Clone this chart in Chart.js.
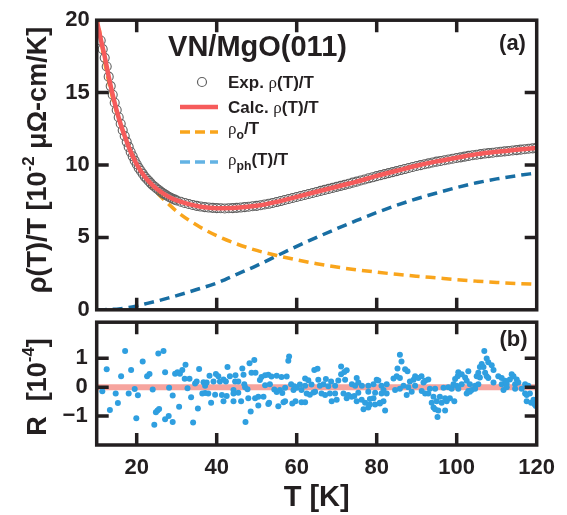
<!DOCTYPE html>
<html><head><meta charset="utf-8">
<script src="https://cdn.jsdelivr.net/npm/chart.js@4"></script>
<style>
html,body{margin:0;padding:0;background:#fff;width:567px;height:515px;overflow:hidden}
canvas{position:absolute;left:0}
#c1{top:0}
#c2{top:300px}
</style></head>
<body>
<canvas id="c1" width="567" height="330"></canvas>
<canvas id="c2" width="567" height="215"></canvas>
<script>
// ---------- data ----------
const calcT   = [10,11,12,13,14,15,16,17,18,19,20,22,24,26,28,30,33,36,40,45,50,55,60,65,70,75,80,85,90,95,100,105,110,115,120];
const calcRho = [20.0,18.7,17.5,16.1,14.85,13.75,12.8,12.0,11.25,10.6,10.05,9.2,8.6,8.15,7.8,7.55,7.3,7.12,7.02,7.05,7.18,7.45,7.8,8.15,8.5,8.85,9.25,9.6,9.95,10.25,10.5,10.75,10.92,11.05,11.18];

const expT   = [11,11.5,12,12.5,13,13.5,14,14.5,15,15.5,16,16.5,17,17.5,18,18.5,19,19.5,20,20.5,21,21.5,22,22.5,23,23.5,24,24.5,25,25.5,26,26.5,27,27.5,28,28.5,29,29.5,30,
  31,32,33,34,35,36,37,38,39,40,41,42,43,44,45,46,47,48,49,50,51,52,53,54,55,56,57,58,59,60,61,62,63,64,65,66,67,68,69,70,
  71,72,73,74,75,76,77,78,79,80,81,82,83,84,85,86,87,88,89,90,91,92,93,94,95,96,97,98,99,100,101,102,103,104,105,106,107,108,109,110,
  111,112,113,114,115,116,117,118,119,120];
const expRho = [18.6,18.0,17.4,16.8,16.1,15.45,14.85,14.3,13.8,13.3,12.85,12.4,12.0,11.6,11.25,10.9,10.6,10.3,10.05,9.8,9.6,9.4,9.2,9.05,8.9,8.75,8.6,8.5,8.38,8.27,8.16,8.06,7.97,7.89,7.81,7.74,7.67,7.61,7.55,
  7.46,7.38,7.31,7.24,7.18,7.13,7.09,7.06,7.04,7.02,7.01,7.0,7.01,7.02,7.04,7.06,7.09,7.12,7.15,7.18,7.22,7.27,7.32,7.38,7.44,7.51,7.58,7.65,7.72,7.79,7.86,7.93,8.0,8.07,8.14,8.21,8.28,8.35,8.42,8.49,
  8.56,8.63,8.7,8.78,8.85,8.93,9.0,9.08,9.15,9.23,9.3,9.37,9.44,9.51,9.58,9.65,9.72,9.79,9.86,9.93,9.99,10.05,10.11,10.17,10.23,10.28,10.33,10.38,10.43,10.48,10.53,10.58,10.63,10.67,10.71,10.75,10.79,10.82,10.85,10.88,
  10.91,10.94,10.97,11.0,11.03,11.06,11.09,11.12,11.15,11.18];

const rho0T = [10,12,14,16,18,20,22,25,28,30,35,40,45,50,55,60,65,70,75,80,85,90,95,100,105,110,115,120];
const rho0  = [20.5,17.1,14.6,12.8,11.3,10.1,9.2,8.1,7.3,6.8,5.85,5.12,4.55,4.1,3.75,3.45,3.18,2.95,2.76,2.6,2.45,2.32,2.2,2.08,1.98,1.89,1.82,1.76];

const phT   = [10,12,14,16,18,20,22,25,28,30,35,40,45,50,55,60,65,70,75,80,85,90,95,100,105,110,115,120];
const phRho = [0,0.01,0.03,0.08,0.16,0.27,0.4,0.6,0.82,0.98,1.4,1.85,2.45,3.05,3.72,4.38,5.0,5.6,6.17,6.72,7.22,7.67,8.07,8.44,8.77,9.04,9.26,9.45];

// residuals [T, R]
const residuals = [
 [11.4,-0.14],[12.5,0.62],[13.3,-0.79],[14.75,-0.22],[15.3,-0.55],[16.1,0.38],[17.1,1.25],[18,-0.22],[18.6,0.6],[19.5,-0.06],
 [19.9,-1.07],[20.3,-0.28],[21.5,0.89],[22.6,0.38],[23.2,0.46],[24,-0.08],[24.4,-1.3],[24.8,-0.87],[25.2,-0.81],[25.4,1.17],
 [25.6,-0.75],[26.7,1.25],[27.1,0.52],[27.1,-1.11],[28,-1.0],[28.1,-0.02],[29,-0.29],[29,-1.2],[29.6,0.47],[30.2,0.52],
 [30.6,-0.68],[30.8,0.47],[31.4,0.6],[32,0.29],[32.2,0.78],[32.7,-0.04],[33.2,0.29],[33.6,-0.35],[34.1,-1.22],[34.6,0.13],
 [35,0.2],[35.3,-0.74],[35.6,0.63],[36.4,-0.22],[36.7,0.17],[37.1,0.05],[37.1,-0.2],
 [37.5,0.16],[37.9,-0.22],[38.2,0.4],[38.6,-0.54],[39.2,0.2],[39.6,-0.26],[39.8,0.46],[40.4,0.38],[40.8,0.2],[41.3,-0.27],
 [41.7,0.27],[41.7,-0.49],[42.3,0.2],[42.5,-0.3],[42.7,0.7],[43.3,0.38],[44.2,-0.1],[44.2,-0.22],[44.2,-0.49],[44.6,0.2],
 [44.7,0.41],[45.4,0.2],[45.4,-0.19],[46.1,-0.49],[46.4,0.65],[46.7,0.43],[46.9,0.1],[47.1,0.0],[47.2,-1.2],[47.7,-0.07],
 [47.9,-0.38],[48.2,0.83],[48.5,-0.84],[48.7,0.5],[49.4,0.94],[49.6,-0.38],[49.7,0.5],[50.4,-0.33],[50.4,-0.63],[50.8,0.25],
 [51.2,0.35],[51.7,-0.33],[52.1,0.41],[52.1,0.07],[52.9,0.43],[52.9,-0.58],[53.1,-0.54],[53.3,0.1],[53.7,0.37],[54.4,-0.08],
 [55,-0.17],[55,0.4],[55.4,-0.66],[55.8,-0.1],[56.2,0.35],[56.4,-0.2],[56.7,-0.52],[57.1,-0.02],[57.1,-0.49],[57.5,0.37],
 [57.9,0.92],[58.1,1.06],[58.6,0.1],[58.9,-0.56],[59.2,-0.1],[59.4,0.03],[59.7,-0.49],[60,-0.02],[60.8,0.09],[61.2,-0.1],
 [61.2,-0.52],[62.1,0.3],[62.1,0.05],[62.1,-0.52],[62.5,-0.22],[62.9,0.24],[63.3,-0.26],[63.7,0.09],[64.2,-0.18],[64.4,0.6],
 [64.6,-0.16],[65.2,0.64],[65.4,0.26],[65.8,0.05],[66.2,-0.22],[66.7,0.1],[67.1,-0.27],[67.3,0.28],[67.9,0.03],[68.3,-0.22],
 [68.6,0.2],[68.75,-0.49],[69.6,0.05],[69.6,-0.22],[70,-0.43],[70.4,0.23],[71.1,0.72],[71.1,0.45],[71.7,-0.22],[71.9,0.53],
 [72.1,0.26],[72.5,0.59],[72.5,-0.38],[72.9,-0.27],[73.75,-0.33],[73.8,0.1],[74.4,-0.3],[74.6,0.05],[75,0.32],[75,-0.49],
 [75.4,0.16],[75.4,-0.19],[76.25,-0.43],[76.3,0.05],[76.7,-0.76],[77.1,-0.54],[77.9,0.05],[77.9,-0.16],[77.9,-0.7],[78.3,-0.41],
 [78.3,-0.6],[79.2,0.1],[79.2,-0.38],[79.6,-0.19],[79.6,-0.6],[80,0.26],[80.4,0.23],[80.8,-0.54],[80.8,-0.56],[81.2,0.05],
 [81.2,-0.22],[81.7,-0.1],[81.7,-0.49],[82.1,-0.81],[82.5,0.1],[82.5,-0.22],[84.2,0.3],[84.6,-0.1],[85,0.38],[85.2,0.65],
 [85.8,1.12],[85.8,0.32],[85.8,-0.05],[86.2,0.89],[86.7,0.05],[87.1,0.62],[87.5,-0.27],[87.7,0.55],[87.9,0.0],[88.3,0.2],
 [88.75,-0.16],[89.2,0.26],[89.6,0.38],[89.6,0.05],[90.4,0.32],[91.2,0.38],[91.25,-0.13],[91.7,0.16],[92.1,-0.22],
 [92.1,0.22],[92.9,0.27],[92.9,-0.22],[93.3,-0.05],[93.75,-0.54],[94.2,-0.33],[94.2,-0.7],[94.6,-0.05],[94.6,-0.76],[95,-0.49],
 [95.2,-1.03],[95.4,-0.81],[95.8,-0.33],[96.25,-0.54],[96.7,-0.02],[97.1,-0.38],[97.1,-0.81],[97.5,-0.49],[97.9,0.0],[98.3,-0.38],
 [98.75,-0.05],[99.2,0.1],[99.4,-0.49],[99.6,0.28],[100,0.05],[100.25,0.38],[100.4,0.52],[100.4,-0.05],[101.25,0.45],[101.25,0.1],
 [102.1,0.34],[102.5,0.22],[102.5,-0.22],[102.9,0.55],[102.9,-0.13],[103.3,0.1],[103.3,-0.16],[103.75,-0.1],[104.6,0.05],[104.6,-0.05],
 [105,0.38],[105.4,0.5],[105.4,0.1],[105.8,0.7],[105.8,0.34],[106.25,0.8],[106.7,0.7],[106.9,1.25],[107.1,0.5],[107.5,0.99],
 [107.5,0.38],[107.9,0.86],[107.9,0.32],[108.75,0.76],[109.2,0.6],[109.2,0.16],[110.4,0.38],[111.25,0.32],[111.25,0.1],[111.7,-0.1],
 [112.1,0.22],[112.5,0.12],[112.5,0.0],[113.3,0.27],[113.75,0.45],[114.2,0.38],[114.6,0.1],[114.6,-0.05],[115,0.27],[115.4,0.16],
 [116.25,-0.05],[117.1,0.1],[117.1,-0.22],[117.5,-0.27],[117.5,-0.49],[117.9,0.05],[118.3,-0.22],[118.6,-0.54],[119.2,-0.43],[119.5,-0.6],[119.8,-0.65]
];
const zeroT = [10,120];
const zeroR = [0,0];

const xTickLabels   = [20,40,60,80,100,120];
const xTickMarks    = [20,40,60,80,100];
const yTicksTop     = [0,5,10,15,20];
const yTickMarksTop = [5,10,15];
const yTicksBot     = [-1,0,1];

// ---------- styling ----------
const INK = '#231f20';
const SANS = '"Liberation Sans", Arial, Helvetica, sans-serif';
const SERIF = '"Liberation Serif", "Times New Roman", serif';
const LEFT = 96.7, RIGHT_PAD = 567 - 536.7;

function xy(xs, ys){ return xs.map((x,i)=>({x:x, y:ys[i]})); }

function partFont(p, size){
  const s = p.sup ? size*0.62 : (p.sub ? size*0.72 : size);
  if (p.serif) return `normal ${s}px ${SERIF}`;
  return `bold ${s}px ${SANS}`;
}
// draw a run of text parts (with super/subscripts)
function drawParts(ctx, parts, x, y, size, align, rot){
  ctx.save();
  ctx.translate(x, y);
  if (rot) ctx.rotate(rot);
  let total = 0;
  parts.forEach(p=>{ ctx.font = partFont(p,size); p._w = ctx.measureText(p.t).width; total += p._w; });
  let cx = align === 'center' ? -total/2 : 0;
  ctx.textBaseline = 'alphabetic';
  ctx.textAlign = 'left';
  ctx.fillStyle = INK;
  parts.forEach(p=>{
    ctx.font = partFont(p,size);
    let dy = size*0.36;
    if (p.sup) dy -= size*0.42;
    if (p.sub) dy += size*0.3;
    if (p.serif) dy += size*0.02;
    ctx.fillText(p.t, cx, dy);
    cx += p._w;
  });
  ctx.restore();
}

function framePlugin(yName, yMarks){
  return {
    id: 'frame_'+yName,
    afterDraw(chart){
      const {ctx, chartArea:a, scales} = chart;
      const TL = 12;
      ctx.save();
      ctx.strokeStyle = INK;
      ctx.lineWidth = 3.5;
      ctx.beginPath();
      xTickMarks.forEach(v=>{
        const px = scales.x.getPixelForValue(v);
        ctx.moveTo(px, a.top); ctx.lineTo(px, a.top+TL);
        ctx.moveTo(px, a.bottom); ctx.lineTo(px, a.bottom-TL);
      });
      yMarks.forEach(v=>{
        const py = scales.y.getPixelForValue(v);
        ctx.moveTo(a.left, py); ctx.lineTo(a.left+TL, py);
        ctx.moveTo(a.right, py); ctx.lineTo(a.right-TL, py);
      });
      ctx.stroke();
      ctx.strokeRect(a.left, a.top, a.right-a.left, a.bottom-a.top);
      ctx.restore();
    }
  };
}

const annotTop = {
  id: 'annotTop',
  afterDraw(chart){
    const ctx = chart.ctx;
    // y title
    drawParts(ctx, [{t:'ρ(T)/T [10'},{t:'-2',sup:true},{t:' μΩ-cm/K]'}], 36, 160, 27, 'center', -Math.PI/2);
    // panel title and tag
    drawParts(ctx, [{t:'VN/MgO(011)'}], 257.5, 46, 29, 'center', 0);
    drawParts(ctx, [{t:'(a)'}], 512.5, 42, 22, 'center', 0);
    // legend
    const ds = chart.data.datasets;
    const sx0 = 180, sx1 = 218, tx = 228, fs = 17;
    ctx.save();
    // exp marker
    ctx.strokeStyle = ds[1].pointBorderColor; ctx.lineWidth = 1.2;
    ctx.beginPath(); ctx.arc((sx0+sx1)/2+3, 82, 4.5, 0, Math.PI*2); ctx.stroke();
    // calc line
    ctx.strokeStyle = ds[0].borderColor; ctx.lineWidth = 4.5;
    ctx.beginPath(); ctx.moveTo(sx0, 107); ctx.lineTo(sx1, 107); ctx.stroke();
    // dashed models
    ctx.setLineDash([10,5]); ctx.lineWidth = 3.5;
    ctx.strokeStyle = ds[2].borderColor;
    ctx.beginPath(); ctx.moveTo(sx0, 132); ctx.lineTo(sx1, 132); ctx.stroke();
    ctx.strokeStyle = '#63b3e4';
    ctx.beginPath(); ctx.moveTo(sx0, 162); ctx.lineTo(sx1, 162); ctx.stroke();
    ctx.restore();
    drawParts(ctx, [{t:'Exp. '},{t:'ρ',serif:true},{t:'(T)/T'}], tx, 82, fs, 'left', 0);
    drawParts(ctx, [{t:'Calc. '},{t:'ρ',serif:true},{t:'(T)/T'}], tx, 107, fs, 'left', 0);
    drawParts(ctx, [{t:'ρ',serif:true},{t:'o',sub:true},{t:'/T'}], tx, 128, fs, 'left', 0);
    drawParts(ctx, [{t:'ρ',serif:true},{t:'ph',sub:true},{t:'(T)/T'}], tx, 159, fs, 'left', 0);
  }
};

const annotBot = {
  id: 'annotBot',
  afterDraw(chart){
    const ctx = chart.ctx;
    drawParts(ctx, [{t:'R  [10'},{t:'-4',sup:true},{t:']'}], 36, 87, 27, 'center', -Math.PI/2);
    drawParts(ctx, [{t:'(b)'}], 513.5, 38, 22, 'center', 0);
  }
};

const tickFont = {family: SANS, size: 22, weight: 'bold'};

// ---------- top panel ----------
new Chart(document.getElementById('c1'), {
  type: 'line',
  data: {
    datasets: [
      {label:'Calc. ρ(T)/T', data: xy(calcT, calcRho), borderColor:'#f65b5b', borderWidth:4.5,
       pointRadius:0, cubicInterpolationMode:'monotone'},
      {label:'Exp. ρ(T)/T', data: xy(expT, expRho), showLine:false, pointRadius:4.5,
       pointBorderColor:'#606060', pointBackgroundColor:'rgba(0,0,0,0)', pointBorderWidth:1.1},
      {label:'ρo/T', data: xy(rho0T, rho0), borderColor:'#f9a51c', borderWidth:3.5, borderDash:[10,6],
       pointRadius:0, cubicInterpolationMode:'monotone'},
      {label:'ρph(T)/T', data: xy(phT, phRho), borderColor:'#186ea3', borderWidth:3.5, borderDash:[10,6],
       pointRadius:0, cubicInterpolationMode:'monotone'}
    ]
  },
  options: {
    responsive:false, animation:false, events:[],
    layout:{padding:{top:15, right:RIGHT_PAD, bottom:16.5, left:0}},
    plugins:{legend:{display:false}, tooltip:{enabled:false}, title:{display:false}},
    scales:{
      x:{type:'linear', min:10, max:120, display:false},
      y:{type:'linear', min:0, max:20,
         afterBuildTicks: s=>{ s.ticks = yTicksTop.map(v=>({value:v})); },
         afterFit: s=>{ s.width = LEFT; },
         grid:{display:false, drawTicks:false}, border:{display:false},
         ticks:{padding:7, color:INK, font:tickFont}}
    }
  },
  plugins:[framePlugin('y', yTickMarksTop), annotTop]
});

// ---------- bottom panel ----------
new Chart(document.getElementById('c2'), {
  type: 'line',
  data: {
    datasets: [
      {label:'R', data: residuals.map(p=>({x:p[0], y:p[1]})), showLine:false, pointRadius:3,
       pointBackgroundColor:'#2f9fe0', pointBorderWidth:0},
      {label:'zero', data: xy(zeroT, zeroR), borderColor:'#f6a49e', borderWidth:6, pointRadius:0}
    ]
  },
  options: {
    responsive:false, animation:false, events:[],
    layout:{padding:{top:13.5, right:RIGHT_PAD, bottom:0, left:0}},
    plugins:{legend:{display:false}, tooltip:{enabled:false}},
    scales:{
      x:{type:'linear', min:10, max:120,
         afterBuildTicks: s=>{ s.ticks = xTickLabels.map(v=>({value:v})); },
         afterFit: s=>{ s.height = 70; },
         grid:{display:false, drawTicks:false}, border:{display:false},
         ticks:{padding:10, color:INK, font:tickFont, maxRotation:0, autoSkip:false},
         title:{display:true, text:'T [K]', color:INK, font:{family:SANS, size:29, weight:'bold'}, padding:{top:0,bottom:0}}},
      y:{type:'linear', min:-2, max:2.25,
         afterBuildTicks: s=>{ s.ticks = yTicksBot.map(v=>({value:v})); },
         afterFit: s=>{ s.width = LEFT; },
         grid:{display:false, drawTicks:false}, border:{display:false},
         ticks:{padding:9, color:INK, font:tickFont, callback:v=> v<0 ? '\u2212'+Math.abs(v) : String(v)}}
    }
  },
  plugins:[framePlugin('y', yTicksBot), annotBot]
});
</script>
</body></html>
